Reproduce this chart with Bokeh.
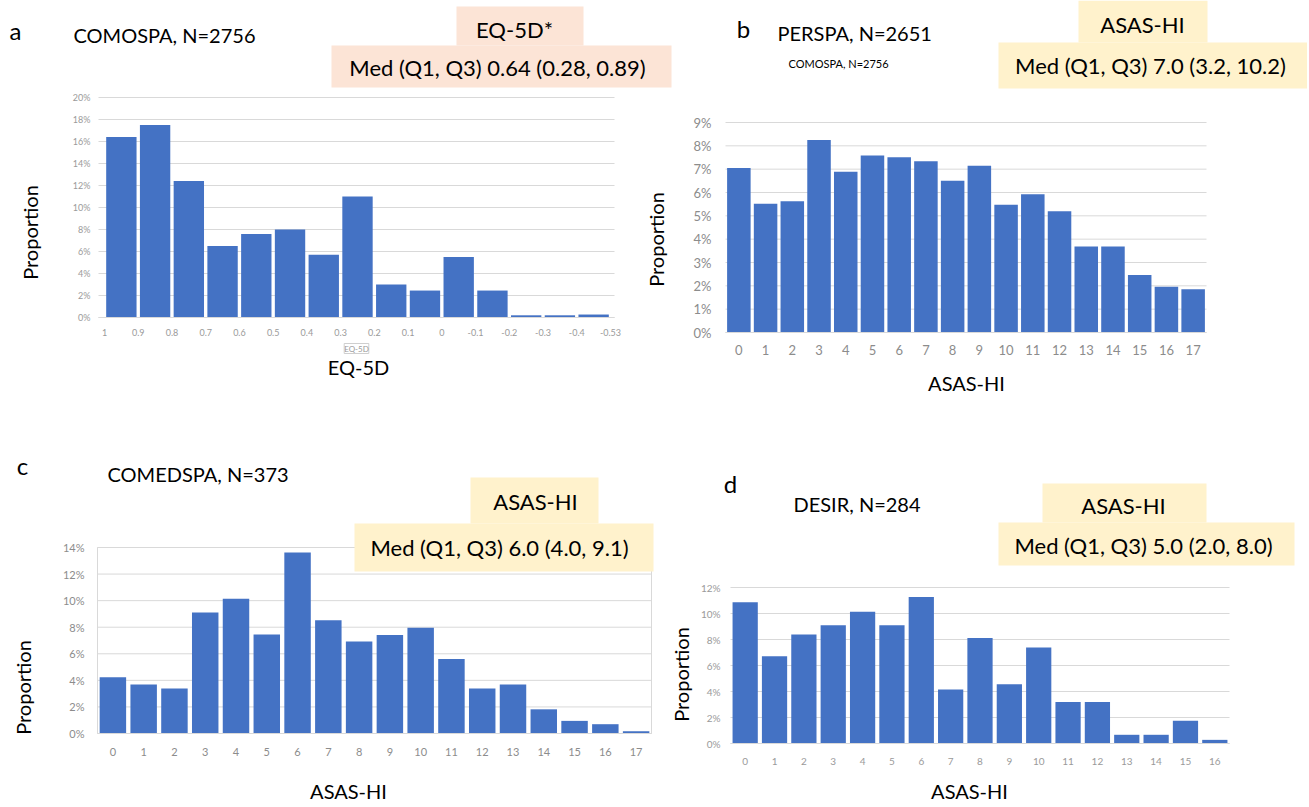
import math
from bokeh.plotting import figure
from bokeh.models import Label, BoxAnnotation, FixedTicker, Range1d, PrintfTickFormatter, ColumnDataSource
from bokeh.layouts import column, row
from bokeh.embed import file_html
from bokeh.resources import INLINE

FONT = "Lato"
BLUE = "#4472C4"
PINK = "#FCE4D6"
YELLOW = "#FFF2CC"
GRID = "#d9d9d9"

# ---------------- data (proportions in %) ----------------
eq5d_edges = ["1", "0.9", "0.8", "0.7", "0.6", "0.5", "0.4", "0.3", "0.2", "0.1",
              "0", "-0.1", "-0.2", "-0.3", "-0.4", "-0.53"]
comospa_eq5d = [16.4, 17.5, 12.4, 6.5, 7.6, 8.0, 5.7, 11.0, 3.0, 2.45, 5.5, 2.45, 0.2, 0.2, 0.27]

asas_scores_18 = ["0", "1", "2", "3", "4", "5", "6", "7", "8", "9", "10", "11", "12",
                  "13", "14", "15", "16", "17"]
asas_scores_17 = ["0", "1", "2", "3", "4", "5", "6", "7", "8", "9", "10", "11", "12",
                  "13", "14", "15", "16"]
perspa_asas = [7.05, 5.52, 5.63, 8.25, 6.89, 7.59, 7.51, 7.34, 6.5, 7.15, 5.48, 5.93, 5.2,
               3.69, 3.69, 2.46, 1.96, 1.85]
comedspa_asas = [4.23, 3.68, 3.38, 9.1, 10.15, 7.46, 13.63, 8.53, 6.92, 7.41, 7.96, 5.6, 3.38,
                 3.68, 1.82, 0.95, 0.70, 0.17]
desir_asas = [10.87, 6.71, 8.38, 9.1, 10.13, 9.1, 11.26, 4.16, 8.12, 4.55, 7.38, 3.19, 3.19,
              0.67, 0.67, 1.75, 0.28]

y_ticks_a = [0, 2, 4, 6, 8, 10, 12, 14, 16, 18, 20]
y_ticks_b = [0, 1, 2, 3, 4, 5, 6, 7, 8, 9]
y_ticks_c = [0, 2, 4, 6, 8, 10, 12, 14]
y_ticks_d = [0, 2, 4, 6, 8, 10, 12]

ROT = math.pi / 2


class Panel:
    """One figure whose frame is its whole canvas; the plot area sits inside it and
    the axes are drawn at fixed locations, so that titles/boxes are not clipped."""

    def __init__(self, canvas, area, xdom, ydom, xticks, xlabels, xs, values, yticks,
                 tick_size, tick_color, ylab_standoff, xlab_standoff, bar_w, outline=False):
        cl, ct, cr, cb = canvas          # page pixels of the canvas
        al, at, ar, ab = area            # page pixels of the plot area
        x0, x1 = xdom                    # data values at area left / right
        y0, y1 = ydom                    # data values at area bottom / top
        sx = (x1 - x0) / (ar - al)
        sy = (y1 - y0) / (ab - at)
        self.cl, self.cb = cl, cb
        xr = Range1d(x0 + (cl - al) * sx, x1 + (cr - ar) * sx)
        yr = Range1d(y0 - (cb - ab) * sy, y1 + (at - ct) * sy)
        p = figure(width=cr - cl, height=cb - ct, x_range=xr, y_range=yr,
                   min_border=0, title=None,
                   output_backend="svg", toolbar_location=None, tools="")
        p.grid.visible = False
        p.outline_line_color = None
        p.background_fill_color = "white"
        p.border_fill_color = "white"
        # horizontal grid lines limited to the plot area
        p.segment(x0=[x0] * len(yticks), x1=[x1] * len(yticks), y0=yticks, y1=yticks,
                  line_color=GRID, line_width=1)
        if outline:
            p.quad(left=[x0], right=[x1], bottom=[y0], top=[y1], fill_alpha=0,
                   line_color=GRID, line_width=1)
        src = ColumnDataSource(dict(x=xs, top=values))
        p.vbar(x="x", top="top", width=bar_w, source=src, fill_color=BLUE, line_color=None)

        xa, ya = p.xaxis[0], p.yaxis[0]
        xa.fixed_location = y0
        xa.bounds = (x0, x1)
        ya.fixed_location = x0
        ya.bounds = (y0, y1)
        ya.ticker = FixedTicker(ticks=yticks)
        ya.formatter = PrintfTickFormatter(format="%d%%")
        xa.ticker = FixedTicker(ticks=xticks)
        xa.major_label_overrides = {t: s for t, s in zip(xticks, xlabels)}
        for ax in (xa, ya):
            ax.major_tick_line_color = None
            ax.minor_tick_line_color = None
            ax.major_tick_out = 0
            ax.major_tick_in = 0
            ax.major_label_text_font = FONT
            ax.major_label_text_font_size = f"{tick_size}px"
            ax.major_label_text_color = tick_color
        ya.axis_line_color = None
        xa.axis_line_color = GRID
        ya.major_label_standoff = ylab_standoff
        xa.major_label_standoff = xlab_standoff
        self.p = p

    def txt(self, px, py, text, size, align="left", color="black", angle=0.0, **kw):
        self.p.add_layout(Label(x=px - self.cl, y=self.cb - py, x_units="screen",
                                y_units="screen", text=text, text_font=FONT,
                                text_font_size=f"{size}px", text_align=align,
                                text_baseline="middle", text_color=color, angle=angle, **kw))

    def box(self, x0, y0, x1, y1, color):
        self.p.add_layout(BoxAnnotation(left=x0 - self.cl, right=x1 - self.cl,
                                        top=self.cb - y0, bottom=self.cb - y1,
                                        left_units="screen", right_units="screen",
                                        top_units="screen", bottom_units="screen",
                                        fill_color=color, fill_alpha=1.0, line_color=None))


BOXFONT = 22

# ---------------- panel a ----------------
pitch_a = (610 - 104) / 15
A = Panel((0, 0, 690, 440), (98, 97, 614, 317),
          ((98 - 104) / pitch_a, 15 + (614 - 610) / pitch_a), (0, 20),
          list(range(len(eq5d_edges))), eq5d_edges,
          [i + 0.5 for i in range(len(comospa_eq5d))], comospa_eq5d, y_ticks_a,
          9, "#9a9a9a", 8, 11, 0.9)
A.box(456, 6, 583, 45, PINK)
A.box(331, 45, 671, 87, PINK)
A.txt(9, 30, "a", 24)
A.txt(73, 34, "COMOSPA, N=2756", 20)
A.txt(514, 29, "EQ-5D*", BOXFONT, "center")
A.txt(497, 67, "Med (Q1, Q3) 0.64 (0.28, 0.89)", BOXFONT, "center")
A.txt(29, 232, "Proportion", 20, "center", angle=ROT)
A.txt(356, 348, "EQ-5D", 8, "center", color="#9a9a9a",
      border_line_color="#cfcfcf", background_fill_color="white")
A.txt(358, 366, "EQ-5D", 20, "center")
# y-axis title of panel b (sits left of panel b's canvas)
A.txt(655, 239, "Proportion", 20, "center", angle=ROT)

# ---------------- panel b ----------------
B = Panel((690, 0, 1307, 440), (725, 122, 1206, 332), (-0.5, 17.5), (0, 9),
          list(range(len(asas_scores_18))), asas_scores_18,
          list(range(len(perspa_asas))), perspa_asas, y_ticks_b,
          13, "#8c8c8c", 14, 12, 0.88)
B.box(1078, 0, 1207, 42, YELLOW)
B.box(998, 42, 1309, 88, YELLOW)
B.txt(743, 28, "b", 24, "center")
B.txt(777, 32, "PERSPA, N=2651", 20)
B.txt(788, 63, "COMOSPA, N=2756", 11)
B.txt(1142, 24, "ASAS-HI", BOXFONT, "center")
B.txt(1150, 65, "Med (Q1, Q3) 7.0 (3.2, 10.2)", BOXFONT, "center")
B.txt(966, 382, "ASAS-HI", 20, "center")

# ---------------- panel c ----------------
C = Panel((0, 440, 658, 805), (97, 547, 651, 733), (-0.5, 17.5), (0, 14),
          list(range(len(asas_scores_18))), asas_scores_18,
          list(range(len(comedspa_asas))), comedspa_asas, y_ticks_c,
          11, "#8c8c8c", 13, 14, 0.86, outline=True)
C.box(470, 477, 598, 523, YELLOW)
C.box(354, 523, 653, 571, YELLOW)
C.txt(22, 465, "c", 24, "center")
C.txt(107, 473, "COMEDSPA, N=373", 20)
C.txt(535, 501, "ASAS-HI", BOXFONT, "center")
C.txt(499, 547, "Med (Q1, Q3) 6.0 (4.0, 9.1)", BOXFONT, "center")
C.txt(22, 687, "Proportion", 20, "center", angle=ROT)
C.txt(348, 790, "ASAS-HI", 20, "center")

# ---------------- panel d ----------------
D = Panel((658, 440, 1307, 805), (730, 587, 1229, 743), (-0.5, 16.5), (0, 12),
          list(range(len(asas_scores_17))), asas_scores_17,
          list(range(len(desir_asas))), desir_asas, y_ticks_d,
          10, "#9a9a9a", 10, 14, 0.86)
D.box(1042, 483, 1206, 522, YELLOW)
D.box(998, 522, 1294, 565, YELLOW)
D.txt(730, 483, "d", 24, "center")
D.txt(793, 503, "DESIR, N=284", 20)
D.txt(1123, 505, "ASAS-HI", BOXFONT, "center")
D.txt(1143, 545, "Med (Q1, Q3) 5.0 (2.0, 8.0)", BOXFONT, "center")
D.txt(680, 674, "Proportion", 20, "center", angle=ROT)
D.txt(969, 790, "ASAS-HI", 20, "center")

layout = column(row(A.p, B.p, spacing=0), row(C.p, D.p, spacing=0), spacing=0)
open("out.html", "w").write(file_html(layout, INLINE))
